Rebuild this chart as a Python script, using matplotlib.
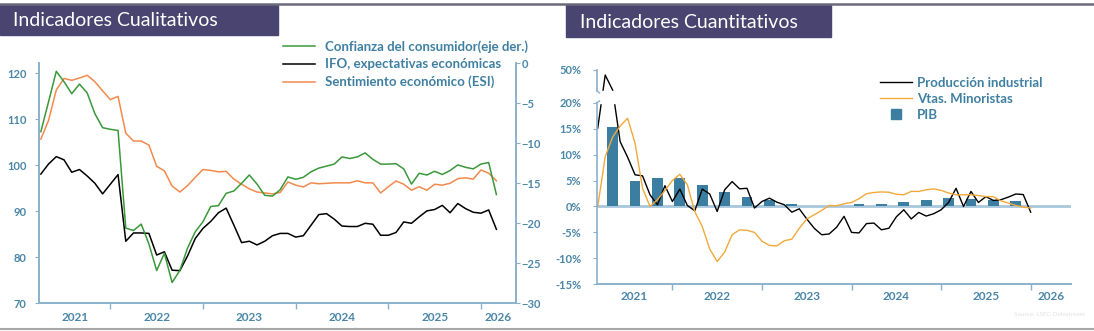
import matplotlib.pyplot as plt
from matplotlib.patches import Rectangle
from matplotlib.lines import Line2D
import numpy as np

plt.rcParams['font.family'] = ['Lato', 'DejaVu Sans']

# Indicadores cualitativos: monthly, Apr 2021 - Mar 2026
ifo = [98.1, 100.3, 101.9, 101.2, 98.5, 99.1, 97.7, 96.1, 93.8, 95.9,
       98.0, 83.5, 85.3, 85.3, 85.2, 80.5, 81.2, 77.2, 77.1, 80.3,
       84.1, 86.3, 87.8, 89.7, 90.7, 87.0, 83.2, 83.5, 82.7, 83.5,
       84.7, 85.2, 85.2, 84.4, 84.7, 87.0, 89.3, 89.5, 88.3, 86.8,
       86.7, 86.7, 87.4, 87.2, 84.8, 84.8, 85.4, 87.7, 87.4, 88.8,
       90.1, 90.4, 91.3, 89.7, 91.7, 90.6, 89.8, 89.6, 90.3, 86.1]
esi = [105.7, 109.8, 116.4, 118.9, 118.5, 119.0, 119.6, 118.2, 116.2, 114.3,
       115.0, 107.0, 105.3, 105.3, 104.4, 99.8, 98.8, 95.5, 94.2, 95.6,
       97.4, 99.1, 98.9, 98.6, 98.7, 97.0, 95.9, 94.9, 94.2, 94.0,
       93.8, 94.1, 96.4, 95.7, 95.3, 96.2, 96.0, 96.1, 96.2, 96.2,
       96.2, 96.65, 96.2, 96.2, 94.0, 95.35, 96.6, 95.9, 94.6, 95.35,
       94.6, 95.9, 95.7, 96.1, 97.1, 97.3, 97.0, 99.0, 98.3, 96.65]
consumidor = [-8.55, -4.8, -1.0, -2.3, -3.8, -2.6, -3.7, -6.3, -8.05, -8.25,
              -8.4, -20.6, -20.9, -20.1, -22.6, -25.9, -23.75, -27.4, -25.9, -23.1,
              -21.05, -19.8, -17.9, -17.8, -16.25, -15.96, -15.0, -13.96, -15.1, -16.5,
              -16.6, -15.8, -14.2, -14.5, -14.25, -13.55, -13.1, -12.85, -12.6, -11.7,
              -11.9, -11.7, -11.2, -12.0, -12.6, -12.6, -12.55, -13.2, -15.1, -13.75,
              -13.96, -13.5, -13.9, -13.4, -12.7, -13.0, -13.2, -12.6, -12.4, -16.4]

# Indicadores cuantitativos: monthly, Mar 2021 - Jan 2026 (% a/a)
prod_ind = [15.1, 45.4, 31.5, 12.5, 9.5, 6.1, 5.9, 2.25, 0.33, 4.0,
            0.96, 3.35, 0.2, -0.83, 3.35, 2.4, -0.96, 3.2, 4.8, 3.4,
            3.5, -0.3, 0.96, 1.6, 0.83, 0.33, -1.1, -0.45, -2.4, -4.2,
            -5.45, -5.3, -4.0, -1.9, -5.0, -5.1, -3.3, -3.2, -4.5, -4.2,
            -2.0, -0.64, -2.4, -1.15, -1.85, -1.4, -0.64, 0.77, 3.5, 0.0,
            2.9, 0.77, 1.9, 1.16, 1.3, 1.8, 2.4, 2.3, -1.1]
minoristas = [0.0, 9.6, 13.4, 15.5, 17.0, 12.2, 3.5, 0.0, 1.3, 3.1,
              5.0, 6.2, 4.2, -1.0, -3.85, -8.2, -10.6, -8.8, -5.45, -4.5,
              -4.6, -5.0, -6.7, -7.5, -7.6, -6.6, -6.3, -4.2, -2.4, -1.6,
              -0.77, 0.2, 0.13, 0.52, 0.77, 1.5, 2.45, 2.7, 2.8, 2.75,
              2.35, 2.25, 2.9, 2.9, 3.2, 3.4, 3.1, 2.6, 2.25, 2.25,
              2.25, 2.1, 1.9, 1.9, 1.1, 0.65, 0.2, -0.13, -0.3]
# quarterly GDP, Q2 2021 - Q4 2025
pib = [15.4, 5.0, 5.5, 5.4, 4.1, 2.8, 1.9, 1.2, 0.45, 0.1,
       0.1, 0.5, 0.45, 0.85, 1.3, 1.55, 1.5, 1.3, 1.1]

years = [2021, 2022, 2023, 2024, 2025, 2026]

# month index, Jan 2021 = 0
x_left = np.arange(len(ifo)) + 3
x_right = np.arange(len(prod_ind)) + 2
x_pib = np.arange(len(pib)) * 3 + 4   # middle month of each quarter

axc = '#8ab1cc'
txtc = '#4a86a8'
legc = '#3f80a2'
W, H = 1094, 331

fig = plt.figure(figsize=(W / 100, H / 100), dpi=100)


def fx(px):
    return px / W


def fy(py):
    return 1 - py / H


def year_axis(ax, xlo, xhi):
    ax.set_xlim(xlo, xhi)
    bounds = [(y - 2021) * 12 for y in years]
    ax.set_xticks([b for b in bounds if xlo < b < xhi])
    ax.set_xticklabels([])
    mids = [(max(b, xlo) + min(b + 12, xhi)) / 2 for b in bounds]
    ax.set_xticks(mids, minor=True)
    ax.set_xticklabels([str(y) for y in years], minor=True)
    ax.tick_params(axis='x', which='major', length=4, color=axc, width=1)
    ax.tick_params(axis='x', which='minor', length=0)


# ---------------- left panel ----------------
ax = fig.add_axes([fx(39.3), fy(303.3), fx(476.4), 240 / H])
ax2 = ax.twinx()
l_ifo, = ax.plot(x_left, ifo, color='black', lw=1.1)
l_esi, = ax.plot(x_left, esi, color='#f28a4e', lw=1.1)
l_con, = ax2.plot(x_left, consumidor, color='#3a983a', lw=1.1)
ax.set_ylim(70, 122.2)
ax.set_yticks([70, 80, 90, 100, 110, 120])
ax2.set_ylim(-30, 0)
ax2.set_yticks([-30, -25, -20, -15, -10, -5, 0])
year_axis(ax, 2.8, 64.5)
for a in (ax, ax2):
    a.spines['top'].set_visible(False)
    for s in ('left', 'right', 'bottom'):
        a.spines[s].set_color(axc)
        a.spines[s].set_linewidth(1.2)
    a.tick_params(axis='y', length=3, color=axc, labelcolor=txtc, labelsize=8)
ax.tick_params(axis='y', pad=6)
ax2.tick_params(axis='y', pad=1)
ax.tick_params(axis='x', which='minor', labelcolor=txtc, labelsize=8.5, pad=6.5)
for t in ax.get_yticklabels() + ax2.get_yticklabels() + ax.get_xticklabels(minor=True):
    t.set_fontweight('bold')

fig.legend([l_con, l_ifo, l_esi],
           ['Confianza del consumidor(eje der.)', 'IFO, expectativas económicas',
            'Sentimiento económico (ESI)'],
           loc='upper left', bbox_to_anchor=(fx(283), fy(40)), frameon=False,
           prop={'size': 9.5, 'weight': 'bold'}, labelcolor=legc,
           handlelength=2.4, handletextpad=0.75, labelspacing=0.42,
           borderpad=0, borderaxespad=0)

# ---------------- right panel ----------------
k = 0.21


def fwd(v):
    v = np.asarray(v, float)
    return np.where(v <= 20, v, 20 + (v - 20) * k)


def inv(s):
    s = np.asarray(s, float)
    return np.where(s <= 20, s, 20 + (s - 20) / k)


bx = fig.add_axes([fx(596.7), fy(284.3), fx(474.3), 214.3 / H])
bx.set_yscale('function', functions=(fwd, inv))
bx.set_ylim(-15, 50)
bx.axhline(0, color='#a9c8dc', lw=2, zorder=1)
bx.bar(x_pib, pib, width=1.45, color='#3b7ea1', zorder=2, label='PIB')
r_ip, = bx.plot(x_right, prod_ind, color='black', lw=1.0, zorder=3)
r_mn, = bx.plot(x_right, minoristas, color='#f2a93b', lw=1.0, zorder=3)
# axis break
bx.axhspan(20.1, 31, color='white', zorder=4)
yt = bx.get_yaxis_transform()
bx.plot([0, 0], [-15, 20], transform=yt, color=axc, lw=1.2, clip_on=False, zorder=5)
bx.plot([0, 0], [31, 50], transform=yt, color=axc, lw=1.2, clip_on=False, zorder=5)
bx.plot([0, 0.006], [20, 21.5], transform=yt, color=axc, lw=1.0, clip_on=False, zorder=5)
bx.plot([0, 0.006], [31, 29], transform=yt, color=axc, lw=1.0, clip_on=False, zorder=5)
bx.set_yticks([-15, -10, -5, 0, 5, 10, 15, 20, 50])
bx.set_yticklabels(['-15%', '-10%', '-5%', '0%', '5%', '10%', '15%', '20%', '50%'])
bx.yaxis.set_minor_locator(plt.NullLocator())
year_axis(bx, 1.86, 65.4)
for s in ('left', 'top', 'right'):
    bx.spines[s].set_visible(False)
bx.spines['bottom'].set_color(axc)
bx.spines['bottom'].set_linewidth(1.4)
bx.tick_params(axis='y', length=3, color=axc, labelcolor=txtc, labelsize=8, pad=8)
bx.tick_params(axis='x', which='minor', labelcolor=txtc, labelsize=8.5, pad=5)
for t in bx.get_yticklabels() + bx.get_xticklabels(minor=True):
    t.set_fontweight('bold')

pib_handle = Line2D([], [], marker='s', linestyle='none', color='#3b7ea1', markersize=7)
fig.legend([r_ip, r_mn, pib_handle],
           ['Producción industrial', 'Vtas. Minoristas', 'PIB'],
           loc='upper left', bbox_to_anchor=(fx(880), fy(77)), frameon=False,
           prop={'size': 9.5, 'weight': 'bold'}, labelcolor=legc,
           handlelength=2.4, handletextpad=0.4, labelspacing=0.3,
           borderpad=0, borderaxespad=0)

# ---------------- page decoration ----------------
fig.add_artist(Line2D([0, 1], [fy(3.5), fy(3.5)], color='#6a6a7c', lw=1.8))
fig.add_artist(Line2D([0, 1], [fy(329), fy(329)], color='#a8a8a8', lw=1.5))
fig.patches.append(Rectangle((0, fy(35)), fx(278), 30 / H, transform=fig.transFigure,
                             color='#4a4570', zorder=0))
fig.patches.append(Rectangle((fx(566), fy(37)), fx(265), 32 / H, transform=fig.transFigure,
                             color='#4a4570', zorder=0))
fig.text(fx(13), fy(26.5), 'Indicadores Cualitativos', color='white', fontsize=14,
         va='baseline')
fig.text(fx(580), fy(28), 'Indicadores Cuantitativos', color='white', fontsize=14,
         va='baseline')
fig.text(fx(1085), fy(314), 'Source: LSEG Datastream', color='#e2e2e2', fontsize=4.5,
         ha='right', va='center')

fig.savefig('out.png', dpi=100)
